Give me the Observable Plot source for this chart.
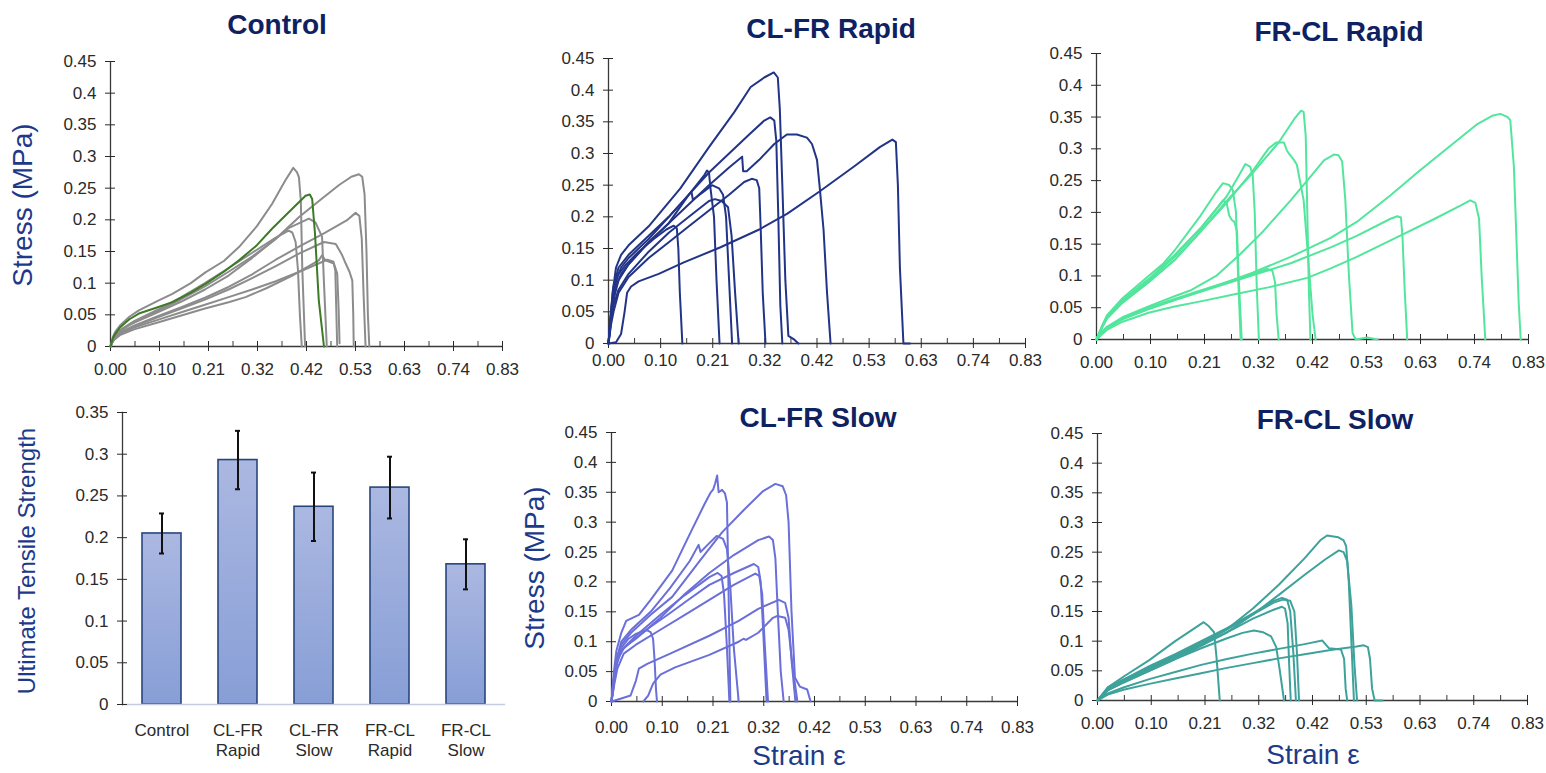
<!DOCTYPE html>
<html><head><meta charset="utf-8">
<script src="https://cdn.jsdelivr.net/npm/d3@7"></script>
<script src="https://cdn.jsdelivr.net/npm/@observablehq/plot@0.6"></script>
<style>
body{margin:0;background:#fff;}
#root{position:relative;width:1546px;height:773px;overflow:hidden;font-family:"Liberation Sans",Arial,sans-serif;background:#fff;}
.panel{position:absolute;}
.title{position:absolute;font-weight:bold;font-size:28px;line-height:1;color:#0e2160;transform:translate(-50%,-50%);white-space:nowrap;}
.ylab{position:absolute;font-size:28px;line-height:1;color:#1d3a8a;transform:translate(-50%,-50%) rotate(-90deg);white-space:nowrap;}
.xlab{position:absolute;font-size:28px;line-height:1;color:#1d3a8a;transform:translate(-50%,-50%);white-space:nowrap;}
</style></head>
<body><div id="root"></div>
<script>
// ---------- tick labels ----------
const xTickLabels = ["0.00","0.10","0.21","0.32","0.42","0.53","0.63","0.74","0.83"];
const stressTickLabels = ["0","0.05","0.1","0.15","0.2","0.25","0.3","0.35","0.4","0.45"];
const utsTickLabels = ["0","0.05","0.1","0.15","0.2","0.25","0.3","0.35"];

// ---------- bar chart ----------
const barCategories = ["Control","CL-FR Rapid","CL-FR Slow","FR-CL Rapid","FR-CL Slow"];
const barLabels = ["Control","CL-FR\nRapid","CL-FR\nSlow","FR-CL\nRapid","FR-CL\nSlow"];
const barValues = [0.205,0.293,0.237,0.260,0.168];
const barErrors = [0.024,0.035,0.041,0.037,0.030];

// ---------- Control (strain, stress) ----------
const ctlA = [[0,0],[0.005,0.015],[0.01,0.023],[0.02,0.033],[0.04,0.047],[0.06,0.057],[0.1,0.072],[0.131,0.083],[0.17,0.1],[0.201,0.117],[0.24,0.135],[0.272,0.157],[0.31,0.19],[0.342,0.225],[0.37,0.262],[0.387,0.282],[0.395,0.275],[0.399,0.267],[0.403,0.23],[0.406,0.125],[0.412,0]];
const ctlB = [[0,0],[0.005,0.01],[0.01,0.016],[0.02,0.024],[0.04,0.034],[0.06,0.041],[0.1,0.054],[0.15,0.071],[0.2,0.09],[0.25,0.112],[0.3,0.14],[0.35,0.17],[0.4,0.205],[0.45,0.235],[0.484,0.255],[0.51,0.268],[0.526,0.272],[0.533,0.268],[0.538,0.24],[0.542,0.15],[0.545,0.05],[0.548,0]];
const ctlC = [[0,0],[0.005,0.009],[0.01,0.015],[0.02,0.022],[0.05,0.033],[0.1,0.048],[0.15,0.062],[0.2,0.077],[0.25,0.094],[0.3,0.114],[0.35,0.137],[0.4,0.158],[0.45,0.178],[0.5,0.199],[0.519,0.211],[0.527,0.206],[0.532,0.17],[0.536,0.08],[0.54,0]];
const ctlD = [[0,0],[0.005,0.009],[0.01,0.014],[0.02,0.021],[0.05,0.032],[0.1,0.046],[0.15,0.06],[0.2,0.074],[0.25,0.09],[0.3,0.108],[0.35,0.127],[0.4,0.147],[0.452,0.165],[0.477,0.162],[0.49,0.145],[0.498,0.131],[0.506,0.118],[0.512,0.104],[0.514,0.05],[0.515,0]];
const ctlE = [[0,0],[0.005,0.011],[0.01,0.017],[0.02,0.025],[0.05,0.038],[0.1,0.056],[0.15,0.075],[0.2,0.095],[0.25,0.118],[0.3,0.142],[0.35,0.17],[0.377,0.187],[0.42,0.202],[0.434,0.196],[0.448,0.173],[0.452,0.1],[0.458,0]];
const ctlF = [[0,0],[0.005,0.011],[0.01,0.017],[0.02,0.026],[0.05,0.04],[0.1,0.058],[0.15,0.078],[0.2,0.1],[0.25,0.124],[0.3,0.148],[0.35,0.172],[0.377,0.183],[0.385,0.18],[0.392,0.165],[0.397,0.12],[0.401,0.05],[0.405,0]];
const ctlG = [[0,0],[0.005,0.008],[0.01,0.012],[0.02,0.018],[0.05,0.027],[0.1,0.038],[0.15,0.049],[0.2,0.06],[0.25,0.07],[0.286,0.078],[0.33,0.092],[0.385,0.112],[0.441,0.136],[0.448,0.144],[0.455,0.136],[0.473,0.131],[0.48,0.115],[0.483,0.06],[0.485,0.005]];
const ctlH = [[0,0],[0.005,0.008],[0.01,0.013],[0.02,0.02],[0.05,0.03],[0.1,0.042],[0.15,0.054],[0.2,0.066],[0.25,0.078],[0.3,0.09],[0.35,0.103],[0.4,0.118],[0.459,0.137],[0.472,0.134],[0.476,0.12],[0.478,0.06],[0.48,0]];
const ctlGreen = [[0,0],[0.005,0.013],[0.01,0.02],[0.02,0.03],[0.04,0.043],[0.06,0.052],[0.1,0.062],[0.131,0.07],[0.17,0.085],[0.201,0.099],[0.24,0.118],[0.272,0.136],[0.31,0.16],[0.342,0.186],[0.38,0.214],[0.413,0.238],[0.422,0.24],[0.427,0.233],[0.433,0.178],[0.441,0.073],[0.452,0]];

// ---------- CL-FR Rapid ----------
const cfr1 = [[0,0],[0.004,0.04],[0.008,0.08],[0.015,0.12],[0.025,0.14],[0.04,0.155],[0.08,0.185],[0.143,0.245],[0.2,0.31],[0.25,0.365],[0.283,0.405],[0.31,0.42],[0.329,0.428],[0.337,0.42],[0.341,0.37],[0.346,0.25],[0.352,0.1],[0.358,0.012],[0.37,0.006],[0.378,0]];
const cfr2 = [[0,0],[0.005,0.05],[0.01,0.09],[0.02,0.12],[0.04,0.14],[0.08,0.17],[0.12,0.2],[0.16,0.235],[0.2,0.27],[0.24,0.3],[0.28,0.33],[0.31,0.352],[0.322,0.357],[0.33,0.352],[0.334,0.32],[0.338,0.2],[0.342,0.06],[0.346,0]];
const cfr3 = [[0,0],[0.005,0.04],[0.01,0.07],[0.02,0.1],[0.04,0.125],[0.08,0.16],[0.12,0.19],[0.16,0.22],[0.2,0.25],[0.24,0.278],[0.266,0.295],[0.268,0.272],[0.275,0.272],[0.3,0.29],[0.33,0.315],[0.355,0.33],[0.375,0.33],[0.395,0.325],[0.405,0.315],[0.415,0.29],[0.42,0.25],[0.428,0.18],[0.435,0.08],[0.442,0]];
const cfr4 = [[0,0],[0.003,0.03],[0.006,0.05],[0.012,0.09],[0.02,0.11],[0.035,0.125],[0.06,0.145],[0.09,0.165],[0.115,0.18],[0.13,0.186],[0.136,0.182],[0.139,0.15],[0.142,0.08],[0.147,0]];
const cfr5 = [[0,0],[0.004,0.04],[0.008,0.07],[0.015,0.1],[0.025,0.12],[0.04,0.135],[0.08,0.165],[0.12,0.2],[0.16,0.235],[0.19,0.265],[0.196,0.273],[0.2,0.27],[0.203,0.245],[0.21,0.2],[0.215,0.1],[0.221,0]];
const cfr6 = [[0,0],[0.004,0.035],[0.008,0.06],[0.015,0.09],[0.025,0.11],[0.04,0.125],[0.08,0.16],[0.12,0.19],[0.16,0.235],[0.165,0.24],[0.168,0.227],[0.19,0.24],[0.206,0.25],[0.22,0.245],[0.228,0.235],[0.234,0.2],[0.24,0.1],[0.246,0]];
const cfr7 = [[0,0],[0.005,0.035],[0.01,0.06],[0.02,0.085],[0.04,0.11],[0.08,0.145],[0.12,0.175],[0.16,0.2],[0.2,0.225],[0.212,0.228],[0.225,0.225],[0.238,0.215],[0.245,0.17],[0.252,0.08],[0.259,0]];
const cfr8 = [[0,0],[0.005,0.03],[0.01,0.05],[0.02,0.08],[0.04,0.105],[0.08,0.135],[0.12,0.16],[0.16,0.185],[0.2,0.21],[0.24,0.235],[0.27,0.255],[0.285,0.26],[0.295,0.258],[0.3,0.245],[0.303,0.18],[0.307,0.08],[0.3125,0]];
const cfr9 = [[0,0],[0.015,0.002],[0.025,0.015],[0.032,0.05],[0.037,0.08],[0.045,0.09],[0.06,0.098],[0.1,0.11],[0.15,0.128],[0.223,0.152],[0.3,0.18],[0.356,0.205],[0.42,0.24],[0.488,0.279],[0.54,0.31],[0.565,0.322],[0.572,0.318],[0.576,0.25],[0.58,0.12],[0.587,0],[0.6,0]];

// ---------- FR-CL Rapid ----------
const fcr1 = [[0,0],[0.01,0.02],[0.02,0.038],[0.05,0.065],[0.1,0.1],[0.129,0.12],[0.15,0.14],[0.2,0.195],[0.23,0.232],[0.243,0.246],[0.255,0.243],[0.262,0.235],[0.268,0.2],[0.272,0.1],[0.277,0]];
const fcr2 = [[0,0],[0.01,0.02],[0.02,0.036],[0.05,0.062],[0.1,0.095],[0.15,0.133],[0.2,0.175],[0.23,0.205],[0.243,0.219],[0.25,0.215],[0.255,0.195],[0.26,0.188],[0.265,0.185],[0.27,0.17],[0.273,0.1],[0.279,0]];
const fcr3 = [[0,0],[0.01,0.018],[0.02,0.034],[0.05,0.06],[0.1,0.093],[0.15,0.13],[0.2,0.175],[0.25,0.225],[0.275,0.26],[0.286,0.276],[0.295,0.272],[0.3,0.26],[0.304,0.2],[0.308,0.08],[0.312,0]];
const fcr4 = [[0,0],[0.01,0.018],[0.02,0.033],[0.05,0.058],[0.1,0.09],[0.15,0.125],[0.2,0.17],[0.25,0.215],[0.3,0.265],[0.33,0.3],[0.345,0.31],[0.36,0.31],[0.366,0.297],[0.372,0.29],[0.379,0.283],[0.385,0.275],[0.398,0.219],[0.408,0.114],[0.415,0.04],[0.421,0]];
const fcr5 = [[0,0],[0.01,0.018],[0.02,0.033],[0.05,0.058],[0.1,0.09],[0.15,0.125],[0.2,0.17],[0.25,0.218],[0.3,0.262],[0.35,0.31],[0.38,0.347],[0.393,0.36],[0.398,0.358],[0.402,0.32],[0.405,0.2],[0.408,0.08],[0.411,0]];
const fcr6 = [[0,0],[0.01,0.012],[0.02,0.02],[0.05,0.035],[0.1,0.052],[0.15,0.068],[0.18,0.077],[0.23,0.1],[0.277,0.135],[0.32,0.17],[0.373,0.219],[0.41,0.255],[0.437,0.282],[0.456,0.291],[0.465,0.29],[0.472,0.28],[0.478,0.22],[0.485,0.1],[0.492,0.01],[0.498,0],[0.52,0.003],[0.54,0]];
const fcr7 = [[0,0],[0.01,0.01],[0.02,0.018],[0.05,0.033],[0.1,0.05],[0.15,0.064],[0.2,0.077],[0.25,0.09],[0.3,0.103],[0.328,0.111],[0.338,0.108],[0.343,0.09],[0.346,0.04],[0.35,0]];
const fcr8 = [[0,0],[0.01,0.01],[0.02,0.018],[0.05,0.032],[0.1,0.048],[0.15,0.062],[0.2,0.075],[0.25,0.088],[0.3,0.101],[0.373,0.12],[0.45,0.145],[0.5,0.163],[0.565,0.19],[0.578,0.194],[0.585,0.192],[0.588,0.16],[0.592,0.08],[0.597,0]];
const fcr9 = [[0,0],[0.01,0.008],[0.02,0.015],[0.05,0.028],[0.1,0.042],[0.15,0.052],[0.2,0.06],[0.27,0.072],[0.33,0.082],[0.405,0.097],[0.45,0.112],[0.5,0.13],[0.565,0.156],[0.65,0.19],[0.7,0.211],[0.718,0.219],[0.728,0.215],[0.735,0.19],[0.74,0.1],[0.747,0]];
const fcr10 = [[0,0],[0.01,0.01],[0.02,0.018],[0.05,0.032],[0.1,0.048],[0.15,0.062],[0.2,0.076],[0.25,0.09],[0.3,0.105],[0.373,0.13],[0.45,0.16],[0.5,0.185],[0.565,0.227],[0.62,0.265],[0.68,0.305],[0.73,0.338],[0.76,0.352],[0.776,0.355],[0.79,0.35],[0.795,0.345],[0.802,0.271],[0.811,0.061],[0.815,0]];

// ---------- CL-FR Slow ----------
const cfs1 = [[0,0],[0.005,0.05],[0.01,0.085],[0.02,0.115],[0.03,0.135],[0.056,0.145],[0.08,0.17],[0.124,0.219],[0.16,0.28],[0.19,0.33],[0.203,0.35],[0.208,0.355],[0.212,0.365],[0.216,0.378],[0.219,0.35],[0.226,0.354],[0.232,0.348],[0.236,0.333],[0.239,0.2],[0.243,0]];
const cfs2 = [[0,0],[0.005,0.04],[0.01,0.07],[0.02,0.1],[0.04,0.12],[0.08,0.15],[0.12,0.19],[0.16,0.235],[0.178,0.262],[0.182,0.25],[0.2,0.265],[0.215,0.277],[0.228,0.272],[0.236,0.255],[0.243,0.19],[0.25,0.09],[0.26,0]];
const cfs3 = [[0,0],[0.006,0.04],[0.012,0.07],[0.025,0.09],[0.05,0.11],[0.1,0.145],[0.15,0.178],[0.2,0.208],[0.217,0.215],[0.225,0.21],[0.23,0.18],[0.236,0.09],[0.241,0]];
const cfs4 = [[0,0],[0.005,0.04],[0.01,0.07],[0.02,0.095],[0.04,0.115],[0.08,0.145],[0.124,0.175],[0.18,0.235],[0.226,0.283],[0.27,0.32],[0.31,0.352],[0.335,0.364],[0.35,0.36],[0.357,0.345],[0.362,0.3],[0.368,0.15],[0.375,0.04],[0.385,0.025],[0.4,0.02],[0.407,0]];
const cfs5 = [[0,0],[0.006,0.04],[0.012,0.07],[0.025,0.09],[0.05,0.105],[0.1,0.14],[0.15,0.18],[0.2,0.215],[0.25,0.245],[0.3,0.27],[0.322,0.276],[0.33,0.27],[0.335,0.24],[0.34,0.15],[0.346,0.05],[0.352,0]];
const cfs6 = [[0,0],[0.005,0.03],[0.01,0.06],[0.02,0.085],[0.04,0.1],[0.08,0.125],[0.12,0.148],[0.16,0.172],[0.2,0.195],[0.25,0.215],[0.291,0.23],[0.3,0.225],[0.305,0.2],[0.31,0.12],[0.317,0]];
const cfs7 = [[0,0],[0.006,0.03],[0.012,0.055],[0.025,0.08],[0.05,0.095],[0.1,0.12],[0.15,0.145],[0.2,0.17],[0.25,0.195],[0.294,0.214],[0.302,0.21],[0.308,0.18],[0.313,0.1],[0.32,0]];
const cfs8 = [[0,0],[0.02,0.005],[0.039,0.01],[0.05,0.035],[0.056,0.055],[0.073,0.063],[0.12,0.08],[0.2,0.11],[0.26,0.135],[0.3,0.155],[0.342,0.17],[0.355,0.165],[0.362,0.14],[0.368,0.07],[0.376,0]];
const cfs9 = [[0.065,0],[0.075,0.01],[0.085,0.03],[0.1,0.045],[0.13,0.057],[0.2,0.078],[0.26,0.1],[0.27,0.105],[0.275,0.103],[0.3,0.115],[0.33,0.14],[0.339,0.143],[0.355,0.14],[0.362,0.12],[0.37,0.06],[0.38,0]];
const cfs10 = [[0,0],[0.005,0.04],[0.01,0.07],[0.02,0.09],[0.035,0.105],[0.05,0.113],[0.065,0.118],[0.073,0.119],[0.08,0.116],[0.085,0.105],[0.088,0.07],[0.091,0.02],[0.093,0]];

// ---------- FR-CL Slow ----------
const fcs1 = [[0,0],[0.02,0.022],[0.05,0.035],[0.1,0.055],[0.15,0.075],[0.2,0.095],[0.25,0.12],[0.3,0.155],[0.35,0.195],[0.4,0.24],[0.43,0.27],[0.443,0.278],[0.465,0.275],[0.475,0.27],[0.48,0.26],[0.485,0.2],[0.49,0.1],[0.495,0]];
const fcs2 = [[0,0],[0.02,0.018],[0.05,0.03],[0.1,0.05],[0.15,0.07],[0.2,0.092],[0.25,0.115],[0.3,0.145],[0.35,0.178],[0.4,0.212],[0.44,0.238],[0.466,0.253],[0.475,0.25],[0.482,0.235],[0.49,0.16],[0.496,0.06],[0.501,0]];
const fcs3 = [[0,0],[0.02,0.022],[0.05,0.04],[0.1,0.068],[0.15,0.1],[0.205,0.132],[0.215,0.125],[0.225,0.115],[0.23,0.07],[0.236,0]];
const fcs4 = [[0,0],[0.02,0.02],[0.05,0.035],[0.1,0.058],[0.15,0.078],[0.2,0.1],[0.25,0.122],[0.3,0.147],[0.34,0.168],[0.356,0.173],[0.366,0.17],[0.372,0.15],[0.378,0.08],[0.383,0]];
const fcs5 = [[0,0],[0.02,0.019],[0.05,0.033],[0.1,0.055],[0.15,0.076],[0.2,0.098],[0.25,0.12],[0.3,0.145],[0.34,0.165],[0.358,0.17],[0.372,0.168],[0.38,0.15],[0.385,0.08],[0.389,0]];
const fcs6 = [[0,0],[0.02,0.018],[0.05,0.032],[0.1,0.053],[0.15,0.073],[0.2,0.094],[0.25,0.115],[0.3,0.138],[0.34,0.153],[0.356,0.158],[0.362,0.155],[0.367,0.13],[0.37,0.06],[0.373,0]];
const fcs7 = [[0,0],[0.02,0.017],[0.05,0.03],[0.1,0.05],[0.15,0.07],[0.2,0.088],[0.25,0.105],[0.28,0.114],[0.302,0.118],[0.32,0.115],[0.335,0.108],[0.345,0.09],[0.352,0.05],[0.36,0]];
const fcs8 = [[0,0],[0.02,0.012],[0.05,0.022],[0.1,0.036],[0.15,0.048],[0.2,0.06],[0.25,0.07],[0.3,0.079],[0.35,0.087],[0.4,0.095],[0.434,0.101],[0.447,0.088],[0.47,0.086],[0.476,0.07],[0.479,0.02],[0.482,0]];
const fcs9 = [[0,0],[0.02,0.01],[0.05,0.018],[0.1,0.028],[0.15,0.037],[0.2,0.046],[0.25,0.055],[0.3,0.063],[0.35,0.071],[0.4,0.078],[0.45,0.085],[0.5,0.091],[0.514,0.093],[0.522,0.09],[0.526,0.07],[0.53,0.02],[0.535,0],[0.55,0]];

// ---------- helpers ----------
const FONT = '"Liberation Sans", Arial, sans-serif';
const AXIS = "#3a3a3a";
const TXT = "#2a2a2a";
const TICKFONT = 17;
const xTickVals = xTickLabels.map((_, i) => i * 0.83 / 8);
const xMinorVals = xTickVals.slice(0, -1).map(v => v + 0.83 / 16);
const stressTickVals = stressTickLabels.map(Number);
const utsTickVals = utsTickLabels.map(Number);

function strainPlot({series, colors, width, height, ml, mr, mt, mb, xPad}) {
  const rows = [];
  series.forEach((s, k) => s.forEach(([x, y]) => rows.push({k, x, y, c: colors[k]})));
  return Plot.plot({
    width, height, marginLeft: ml, marginRight: mr, marginTop: mt, marginBottom: mb,
    style: {fontFamily: FONT, background: "transparent", overflow: "visible"},
    x: {domain: [0, 0.83]}, y: {domain: [0, 0.45]}, color: {type: "identity"},
    marks: [
      Plot.ruleY([0], {stroke: AXIS, strokeWidth: 1.3}),
      Plot.ruleX([0], {stroke: AXIS, strokeWidth: 1.3}),
      Plot.axisX({ticks: xMinorVals, tickSize: 5, dy: -5, tickFormat: () => "", label: null, color: AXIS}),
      Plot.axisX({ticks: xTickVals, tickSize: 10, dy: -5, tickPadding: xPad, label: null, fontSize: TICKFONT, color: TXT,
        tickFormat: d => xTickLabels[xTickVals.indexOf(d)]}),
      Plot.axisY({ticks: stressTickVals, tickSize: 10, dx: 5, tickPadding: 9, label: null, fontSize: TICKFONT, color: TXT,
        tickFormat: d => stressTickLabels[stressTickVals.indexOf(d)]}),
      Plot.line(rows, {x: "x", y: "y", z: "k", stroke: "c", strokeWidth: 2, strokeLinejoin: "round", strokeLinecap: "round"})
    ]
  });
}

const root = document.getElementById("root");
function place(el, left, top) {
  const d = document.createElement("div");
  d.className = "panel"; d.style.left = left + "px"; d.style.top = top + "px";
  d.appendChild(el); root.appendChild(d);
}
function label(cls, text, x, y, extra) {
  const d = document.createElement("div");
  d.className = cls; d.textContent = text;
  d.style.left = x + "px"; d.style.top = y + "px";
  if (extra) Object.assign(d.style, extra);
  root.appendChild(d);
}

const gray = "#8c8c8c";
place(strainPlot({
  series: [ctlA, ctlB, ctlC, ctlD, ctlE, ctlF, ctlG, ctlH, ctlGreen],
  colors: [gray, gray, gray, gray, gray, gray, gray, gray, "#3d7a26"],
  width: 520, height: 350, ml: 110, mr: 18, mt: 21, mb: 44, xPad: 11
}), 0, 40);

const navy = "#223487";
place(strainPlot({
  series: [cfr1, cfr2, cfr3, cfr4, cfr5, cfr6, cfr7, cfr8, cfr9],
  colors: Array(9).fill(navy),
  width: 510, height: 350, ml: 78, mr: 15, mt: 18, mb: 47, xPad: 5
}), 530, 40);

const mint = "#52e69c";
place(strainPlot({
  series: [fcr1, fcr2, fcr3, fcr4, fcr5, fcr6, fcr7, fcr8, fcr9, fcr10],
  colors: Array(10).fill(mint),
  width: 506, height: 350, ml: 56, mr: 18, mt: 13, mb: 51, xPad: 11
}), 1040, 40);

const peri = "#6a6fd9";
place(strainPlot({
  series: [cfs1, cfs2, cfs3, cfs4, cfs5, cfs6, cfs7, cfs8, cfs9, cfs10],
  colors: Array(10).fill(peri),
  width: 510, height: 373, ml: 81, mr: 23, mt: 32, mb: 72, xPad: 14
}), 530, 400);

const teal = "#3ea29b";
place(strainPlot({
  series: [fcs1, fcs2, fcs3, fcs4, fcs5, fcs6, fcs7, fcs8, fcs9],
  colors: Array(9).fill(teal),
  width: 506, height: 373, ml: 57, mr: 19, mt: 33, mb: 73, xPad: 11
}), 1040, 400);

// bar chart
const barRows = barCategories.map((cat, i) => ({cat, v: barValues[i], e: barErrors[i]}));
const bar = Plot.plot({
  width: 520, height: 383, marginLeft: 122, marginRight: 15, marginTop: 22, marginBottom: 69,
  style: {fontFamily: FONT, background: "transparent", overflow: "visible"},
  x: {domain: barCategories, paddingInner: 0.49, paddingOuter: 0.25},
  y: {domain: [0, 0.35]},
  marks: [
    Plot.barY(barRows, {x: "cat", y: "v", fill: "url(#utsGrad)", stroke: "#27467d", strokeWidth: 1.6}),
    Plot.ruleY([0], {stroke: "#c4cce0", strokeWidth: 1.6}),
    Plot.ruleX(barRows, {x: "cat", y1: d => d.v - d.e, y2: d => d.v + d.e, stroke: "#111", strokeWidth: 2}),
    Plot.tickY(barRows, {x: "cat", y: d => d.v + d.e, stroke: "#111", strokeWidth: 2, inset: 17}),
    Plot.tickY(barRows, {x: "cat", y: d => d.v - d.e, stroke: "#111", strokeWidth: 2, inset: 17}),
    Plot.frame({anchor: "left", stroke: AXIS, strokeWidth: 1.3}),
    Plot.axisY({ticks: utsTickVals, tickSize: 10, dx: 5, tickPadding: 9, label: null, fontSize: TICKFONT, color: TXT,
      tickFormat: d => utsTickLabels[utsTickVals.indexOf(d)]}),
    Plot.axisX({tickSize: 0, tickPadding: 17, label: null, fontSize: 17, color: TXT, lineHeight: 1.2,
      tickFormat: d => barLabels[barCategories.indexOf(d)]})
  ]
});
const ns = "http://www.w3.org/2000/svg";
const defs = document.createElementNS(ns, "defs");
defs.innerHTML = '<linearGradient id="utsGrad" x1="0" y1="0" x2="0" y2="1"><stop offset="0" stop-color="#abb8e1"/><stop offset="1" stop-color="#879ed6"/></linearGradient>';
bar.insertBefore(defs, bar.firstChild);
place(bar, 0, 390);

// titles and axis labels
label("title", "Control", 277, 25);
label("title", "CL-FR Rapid", 831, 29);
label("title", "FR-CL Rapid", 1339, 32);
label("title", "CL-FR Slow", 818, 418);
label("title", "FR-CL Slow", 1335, 420);
label("ylab", "Stress (MPa)", 23, 205);
label("ylab", "Stress (MPa)", 535, 568);
label("ylab", "Ultimate Tensile Strength", 27, 561, {fontSize: "24px"});
label("xlab", "Strain ε", 799, 756);
label("xlab", "Strain ε", 1313, 755);
</script>
</body></html>
